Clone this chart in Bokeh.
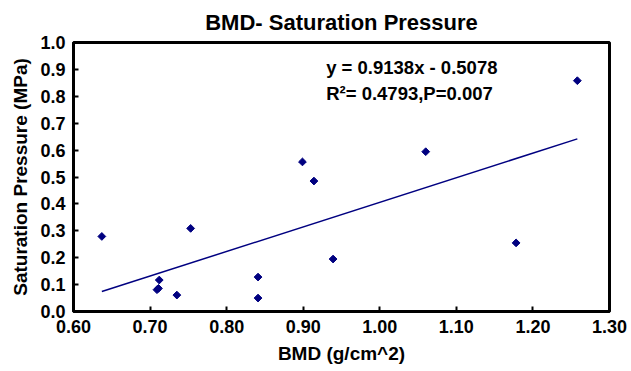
import math
from bokeh.plotting import figure
from bokeh.models import Range1d, Label, FixedTicker, NumeralTickFormatter
from bokeh.embed import file_html
from bokeh.resources import INLINE

# Data
bmd = [0.637, 0.709, 0.711, 0.712, 0.735, 0.753, 0.841, 0.841, 0.899, 0.914, 0.939, 1.060, 1.178, 1.258]
pressure = [0.279, 0.081, 0.086, 0.117, 0.061, 0.309, 0.128, 0.050, 0.556, 0.485, 0.195, 0.594, 0.255, 0.858]

slope = 0.9138
intercept = -0.5078

x_ticks = [0.6, 0.7, 0.8, 0.9, 1.0, 1.1, 1.2, 1.3]
y_ticks = [0.0, 0.1, 0.2, 0.3, 0.4, 0.5, 0.6, 0.7, 0.8, 0.9, 1.0]

title_text = "BMD- Saturation Pressure"
x_label = "BMD (g/cm^2)"
y_label = "Saturation Pressure (MPa)"
eq_text = "y = 0.9138x - 0.5078"
r2_text = "R\u00b2= 0.4793,P=0.007"

FONT = "Liberation Sans"
NAVY = "#000080"

p = figure(width=631, height=371, output_backend="svg", toolbar_location=None,
           x_range=Range1d(x_ticks[0], x_ticks[-1]), y_range=Range1d(y_ticks[0], y_ticks[-1]),
           min_border_left=73, min_border_right=22, min_border_top=42, min_border_bottom=60)

p.title.text = title_text
p.title.align = "center"
p.title.text_font = FONT
p.title.text_font_size = "22px"
p.title.text_font_style = "bold"
p.title.text_color = "black"
p.title.standoff = 15

p.grid.visible = False
p.outline_line_color = "black"
p.outline_line_width = 3
p.outline_line_alpha = 1.0

for ax in (p.xaxis[0], p.yaxis[0]):
    ax.axis_line_width = 3
    ax.axis_line_color = "black"
    ax.major_tick_in = 5
    ax.major_tick_out = 0
    ax.major_tick_line_width = 2
    ax.major_tick_line_color = "black"
    ax.minor_tick_line_color = None
    ax.major_label_text_font = FONT
    ax.major_label_text_font_size = "18px"
    ax.major_label_text_font_style = "bold"
    ax.major_label_text_color = "black"
    ax.axis_label_text_font = FONT
    ax.axis_label_text_font_size = "19px"
    ax.axis_label_text_font_style = "bold"
    ax.axis_label_text_color = "black"
    ax.major_label_standoff = 8

p.xaxis[0].ticker = FixedTicker(ticks=x_ticks)
p.xaxis[0].formatter = NumeralTickFormatter(format="0.00")
p.xaxis[0].axis_label = x_label
p.xaxis[0].axis_label_standoff = 7

p.yaxis[0].ticker = FixedTicker(ticks=y_ticks)
p.yaxis[0].formatter = NumeralTickFormatter(format="0.0")
p.yaxis[0].axis_label = y_label
p.yaxis[0].axis_label_standoff = 6

# trendline from the fitted equation, spanning the data range
x0, x1 = min(bmd), max(bmd)
p.line([x0, x1], [slope * x0 + intercept, slope * x1 + intercept], line_color=NAVY, line_width=1.5)

p.scatter(bmd, pressure, marker="square", angle=math.pi / 4, size=5.5,
          fill_color=NAVY, line_color=NAVY)

p.add_layout(Label(x=0.93, y=0.908, text=eq_text, text_font=FONT, text_font_size="18.5px",
                   text_font_style="bold", text_color="black", text_baseline="middle"))
p.add_layout(Label(x=0.93, y=0.809, text=r2_text, text_font=FONT, text_font_size="18.5px",
                   text_font_style="bold", text_color="black", text_baseline="middle"))

open("out.html", "w").write(file_html(p, INLINE))
